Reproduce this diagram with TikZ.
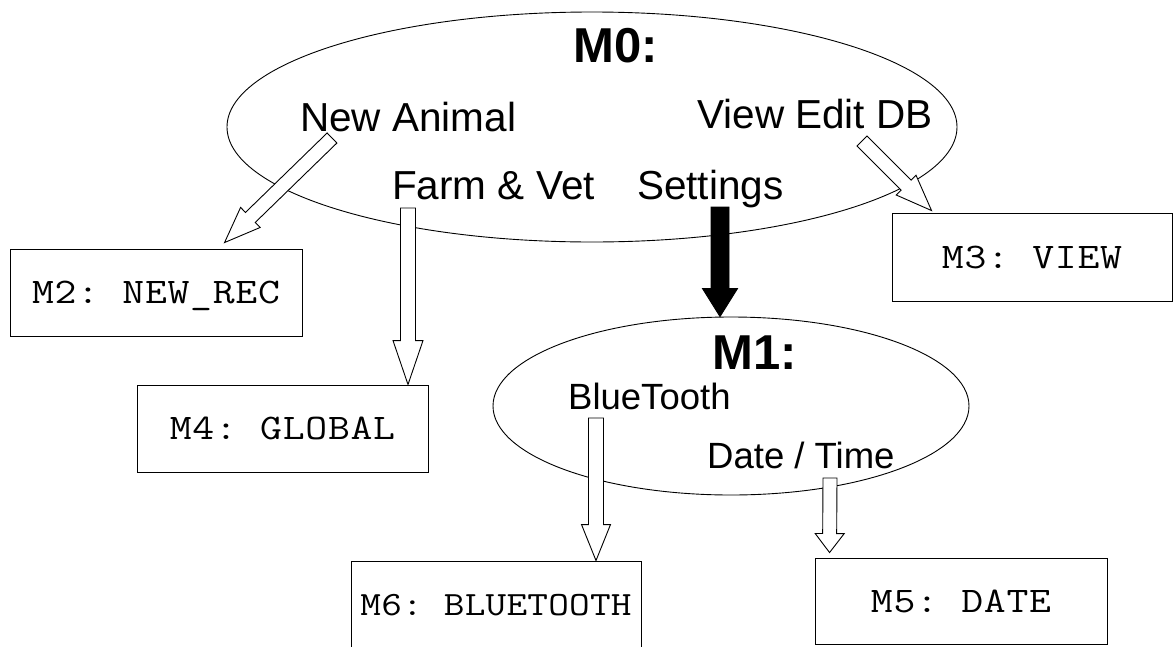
\documentclass[tikz,border=0pt]{standalone}
\usepackage{fontspec}
\setmainfont{Liberation Sans}
\usetikzlibrary{shapes.geometric,calc}

% typewriter text set on a fixed pitch, one cell per character
\newlength\monopitch
\newcommand\monospaced[2]{\setlength\monopitch{#1}\monoloop#2\relax}
\def\monoloop#1{\ifx#1\relax\else\makebox[\monopitch]{#1}\expandafter\monoloop\fi}

% block arrow: style, tail, tip, shaft half width, head half width, head length
\newcommand\blockarrow[6]{%
  \coordinate (#2 base) at ($(#3)!#6!(#2)$);
  \draw[#1] ($(#2)!#4!90:(#3)$) -- ($(#2 base)!#4!90:(#3)$)
    -- ($(#2 base)!#5!90:(#3)$) -- (#3)
    -- ($(#2 base)!#5!-90:(#3)$) -- ($(#2 base)!#4!-90:(#3)$)
    -- ($(#2)!#4!-90:(#3)$) -- cycle;}

\begin{document}
\begin{tikzpicture}[x=1pt,y=-1pt,
  menu/.style={draw, ellipse, line width=0.9pt, inner sep=0pt},
  modbox/.style={draw, line width=0.9pt, inner sep=0pt, text height=22pt, text depth=0pt,
    font=\ttfamily\fontsize{36}{40}\selectfont},
  title/.style={anchor=base west, inner sep=0pt, font=\bfseries\fontsize{49}{56}\selectfont},
  item/.style={anchor=base west, inner sep=0pt, font=\fontsize{40.5}{48}\selectfont},
  subitem/.style={anchor=base west, inner sep=0pt, font=\fontsize{36.5}{44}\selectfont},
  hollow/.style={draw, fill=white, line width=0.9pt, line join=miter},
  solidarrow/.style={draw, fill=black, line width=0.9pt, line join=miter}]
\useasboundingbox (0,0) rectangle (1176,646);

% menus
\node[menu, minimum width=730pt, minimum height=230pt] (m0) at (592,127) {};
\node[menu, minimum width=476pt, minimum height=178pt] (m1) at (731,406) {};

% menu entries
\node[title] (m0t) at (573,62) {M0:};
\node[item] (newanimal) at (300,131) {New Animal};
\node[item] (viewedit) at (697,128) {View Edit DB};
\node[item] (farmvet) at (392,199) {Farm \& Vet};
\node[item] (settings) at (637,199) {Settings};
\node[title] (m1t) at (712,369) {M1:};
\node[subitem] (bluetooth) at (568,409) {BlueTooth};
\node[subitem] (datetime) at (707,468) {Date / Time};

% module boxes
\node[modbox, minimum width=292pt, minimum height=87pt] (m2) at (156,292.5)
  {\scalebox{1.18}[1]{\monospaced{19.15pt}{M2:~NEW\_REC}}\hspace{9pt}};
\node[modbox, minimum width=291pt, minimum height=87pt] (m4) at (282.5,428.5)
  {\scalebox{1.18}[1]{\monospaced{19.15pt}{M4:~GLOBAL}}};
\node[modbox, minimum width=280pt, minimum height=88pt] (m3) at (1032,257)
  {\scalebox{1.18}[1]{\monospaced{19.15pt}{M3:~VIEW}}};
\node[modbox, minimum width=290pt, minimum height=87pt, text height=21pt,
  font=\ttfamily\fontsize{34}{38}\selectfont] (m6) at (496,604.5)
  {\scalebox{1.18}[1]{\monospaced{17.7pt}{M6:~BLUETOOTH}}};
\node[modbox, minimum width=292pt, minimum height=86pt] (m5) at (961,601)
  {\scalebox{1.18}[1]{\monospaced{19.15pt}{M5:~DATE}}};

% arrow ends
\coordinate (natail) at (332,138);
\coordinate (natip) at ($(m2.north west)+(215,-6)$);
\coordinate (fvtail) at (408,208);
\coordinate (fvtip) at (m4.north -| fvtail);
\coordinate (vetail) at (862,141);
\coordinate (vetip) at ($(m3.north west)+(40,-2)$);
\coordinate (sttail) at (720,207);
\coordinate (sttip) at (m1.north -| sttail);
\coordinate (bttail) at (596,418);
\coordinate (bttip) at (m6.north -| bttail);
\coordinate (dttail) at (830,478);
\coordinate (dttip) at ($(m5.north west)+(15,-5)$);

% transitions
\blockarrow{hollow}{natail}{natip}{7pt}{14pt}{36pt}
\blockarrow{hollow}{fvtail}{fvtip}{7.5pt}{15pt}{44pt}
\blockarrow{hollow}{vetail}{vetip}{7pt}{14pt}{36pt}
\blockarrow{solidarrow}{sttail}{sttip}{9pt}{17.5pt}{28pt}
\blockarrow{hollow}{bttail}{bttip}{7.5pt}{14.5pt}{36pt}
\blockarrow{hollow}{dttail}{dttip}{7pt}{14.5pt}{19pt}
\end{tikzpicture}
\end{document}
